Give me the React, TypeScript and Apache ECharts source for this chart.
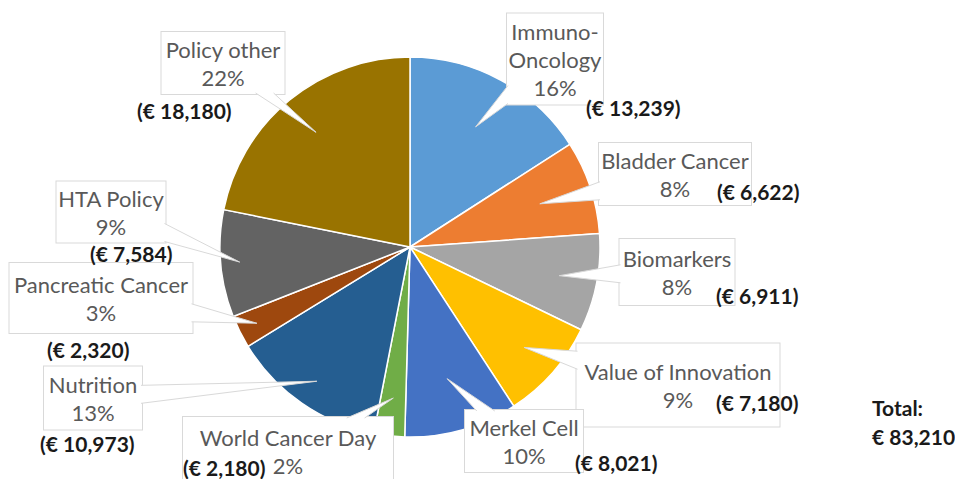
import React, { useEffect, useRef } from 'react';
import * as echarts from 'echarts';

const categories = [
  'Immuno-Oncology',
  'Bladder Cancer',
  'Biomarkers',
  'Value of Innovation',
  'Merkel Cell',
  'World Cancer Day',
  'Nutrition',
  'Pancreatic Cancer',
  'HTA Policy',
  'Policy other',
];
const amounts = [13239, 6622, 6911, 7180, 8021, 2180, 10973, 2320, 7584, 18180];
const colors = ['#5B9BD5', '#ED7D31', '#A5A5A5', '#FFC000', '#4472C4', '#70AD47', '#255E91', '#9E480E', '#636363', '#997300'];

// callout layout (pixels): box centre/size, value-label anchor, pointer tip radius fraction
const calloutLayout = [
  { cx: 555, cy: 59, w: 96, h: 91, vx: 586, vy: 107, tip: 0.72 },
  { cx: 675, cy: 174, w: 152, h: 62, vx: 717, vy: 191, tip: 0.72 },
  { cx: 677, cy: 272, w: 115, h: 66, vx: 716, vy: 295, tip: 0.8 },
  { cx: 678, cy: 385, w: 203, h: 83, vx: 716, vy: 402, tip: 0.8 },
  { cx: 524, cy: 441, w: 118, h: 62, vx: 575, vy: 462, tip: 0.72 },
  { cx: 288, cy: 451, w: 210, h: 68, vx: 183, vy: 467, tip: 0.8 },
  { cx: 93, cy: 398, w: 98, h: 63, vx: 40, vy: 443, tip: 0.86 },
  { cx: 101, cy: 298, w: 183, h: 70, vx: 47, vy: 349, tip: 0.9 },
  { cx: 111, cy: 212, w: 109, h: 61, vx: 90, vy: 253, tip: 0.9 },
  { cx: 223, cy: 63, w: 123, h: 62, vx: 137, vy: 110, tip: 0.78 },
];

const CX = 410;
const CY = 247;
const R = 190;
const LH = 28;
const FONT = 'Lato';

const displayName = (n: string) => n.replace('Immuno-', 'Immuno-\n');

export default function App() {
  const ref = useRef<HTMLDivElement>(null);
  useEffect(() => {
    if (!ref.current) return;
    const chart = echarts.init(ref.current, undefined, { renderer: 'svg' });
    const total = amounts.reduce((a, b) => a + b, 0);

    // pointer wedges computed from slice angles
    const wedges: any[] = [];
    let acc = 0;
    amounts.forEach((v, i) => {
      const mid = ((acc + v / 2) / total) * Math.PI * 2;
      acc += v;
      const b = calloutLayout[i];
      const r = R * b.tip;
      const tx = CX + r * Math.sin(mid);
      const ty = CY - r * Math.cos(mid);
      const dx = tx - b.cx;
      const dy = ty - b.cy;
      const sx = dx !== 0 ? b.w / 2 / Math.abs(dx) : Infinity;
      const sy = dy !== 0 ? b.h / 2 / Math.abs(dy) : Infinity;
      const t = Math.min(sx, sy);
      const ex = b.cx + dx * t;
      const ey = b.cy + dy * t;
      const half = 9;
      let p1: number[];
      let p2: number[];
      if (sx < sy) {
        const inset = dx > 0 ? -1 : 1;
        const yc = Math.max(b.cy - b.h / 2 + half + 1, Math.min(b.cy + b.h / 2 - half - 1, ey));
        p1 = [ex + inset, yc - half];
        p2 = [ex + inset, yc + half];
      } else {
        const inset = dy > 0 ? -1 : 1;
        const xc = Math.max(b.cx - b.w / 2 + half + 1, Math.min(b.cx + b.w / 2 - half - 1, ex));
        p1 = [xc - half, ey + inset];
        p2 = [xc + half, ey + inset];
      }
      wedges.push({
        type: 'polygon',
        z: 4,
        silent: true,
        shape: { points: [p1, [tx, ty], p2] },
        style: { fill: '#ffffff', stroke: null, lineWidth: 0 },
      });
      wedges.push({
        type: 'polyline',
        z: 4,
        silent: true,
        shape: { points: [p1, [tx, ty], p2] },
        style: { stroke: '#d9d9d9', lineWidth: 1, fill: null },
      });
    });

    const baseData = categories.map((n, i) => ({ name: n, value: amounts[i] }));
    const boxData = categories.map((n, i) => {
      const b = calloutLayout[i];
      const lines = displayName(n).split('\n').length + 1;
      const vp = Math.max(0, (b.h - lines * LH) / 2);
      return { name: n, value: amounts[i], label: { width: b.w, padding: [vp, 0, vp, 0] } };
    });

    chart.setOption({
      animation: false,
      color: colors,
      backgroundColor: '#ffffff',
      title: {
        text: `Total:\n€ ${total.toLocaleString('en-US')}`,
        left: 872,
        top: 393,
        padding: 0,
        textStyle: { fontFamily: FONT, fontSize: 21, fontWeight: 'bold', color: '#1a1a1a', lineHeight: 29 },
      },
      graphic: { elements: wedges },
      series: [
        {
          type: 'pie',
          z: 2,
          center: [CX, CY],
          radius: [0, R],
          startAngle: 90,
          clockwise: true,
          silent: true,
          avoidLabelOverlap: false,
          label: { show: false },
          labelLine: { show: false },
          itemStyle: { borderColor: '#ffffff', borderWidth: 1.5 },
          emphasis: { disabled: true },
          data: baseData,
        },
        {
          type: 'pie',
          z: 3,
          center: [CX, CY],
          radius: [0, R],
          startAngle: 90,
          clockwise: true,
          silent: true,
          avoidLabelOverlap: false,
          percentPrecision: 0,
          itemStyle: { color: 'rgba(0,0,0,0)', borderWidth: 0 },
          emphasis: { disabled: true },
          labelLine: { show: false },
          label: {
            show: true,
            position: 'inside',
            formatter: (p: any) => `${displayName(p.name)}\n${p.percent}%`,
            fontFamily: FONT,
            fontSize: 22,
            lineHeight: LH,
            color: '#595959',
            align: 'center',
            backgroundColor: '#ffffff',
            borderColor: '#d9d9d9',
            borderWidth: 1,
          },
          labelLayout: (p: any) => {
            const b = calloutLayout[p.dataIndex];
            return { x: b.cx, y: b.cy, align: 'center', verticalAlign: 'middle' };
          },
          data: boxData,
        },
        {
          type: 'pie',
          z: 5,
          center: [CX, CY],
          radius: [0, R],
          startAngle: 90,
          clockwise: true,
          silent: true,
          avoidLabelOverlap: false,
          itemStyle: { color: 'rgba(0,0,0,0)', borderWidth: 0 },
          emphasis: { disabled: true },
          labelLine: { show: false },
          label: {
            show: true,
            position: 'inside',
            formatter: (p: any) => `(€ ${p.value.toLocaleString('en-US')})`,
            fontFamily: FONT,
            fontSize: 21,
            fontWeight: 'bold',
            color: '#1a1a1a',
          },
          labelLayout: (p: any) => {
            const b = calloutLayout[p.dataIndex];
            return { x: b.vx, y: b.vy, align: 'left', verticalAlign: 'middle' };
          },
          data: baseData,
        },
      ],
    });
    return () => chart.dispose();
  }, []);
  return <div ref={ref} style={{ position: 'fixed', left: 0, top: 0, width: 955, height: 479 }} />;
}
